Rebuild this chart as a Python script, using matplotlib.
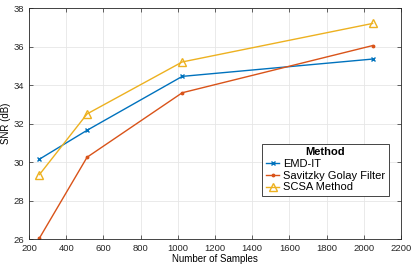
import numpy as np
import matplotlib.pyplot as plt

samples = [256, 512, 1024, 2048]
emd_it = [30.15, 31.65, 34.45, 35.35]
savgol = [26.05, 30.25, 33.6, 36.05]
scsa = [29.35, 32.5, 35.2, 37.2]

plt.rcParams['font.family'] = ['Liberation Sans', 'DejaVu Sans']
plt.rcParams['font.size'] = 6.8

fig = plt.figure(figsize=(4.15, 2.68), dpi=100)
ax = fig.add_axes([0.070, 0.108, 0.896, 0.862])

ax.plot(samples, emd_it, color='#0072BD', marker='x', markersize=3.5, lw=1, label='EMD-IT')
ax.plot(samples, savgol, color='#D95319', marker='.', markersize=3.5, lw=1, label='Savitzky Golay Filter')
ax.plot(samples, scsa, color='#EDB120', marker='^', markersize=5.5, lw=1, mfc='none', label='SCSA Method')

ax.set_xlim(200, 2200)
ax.set_ylim(26, 38)
ax.set_xticks(np.arange(200, 2201, 200))
ax.set_yticks(np.arange(26, 39, 2))
ax.grid(True, color='#e6e6e6', lw=0.6)
ax.set_axisbelow(True)
ax.tick_params(direction='in', length=3, width=0.5, colors='#262626', top=True, right=True, labeltop=False, labelright=False)
for s in ax.spines.values():
    s.set_color('#262626')
    s.set_linewidth(0.6)

ax.set_xlabel('Number of Samples', labelpad=1, fontsize=7)
ax.set_ylabel('SNR (dB)', labelpad=2, fontsize=7)

leg = ax.legend(title='Method', loc='lower right', bbox_to_anchor=(0.982, 0.161),
                fancybox=False, edgecolor='#262626', framealpha=1,
                handlelength=1.2, handletextpad=0.3, borderpad=0.35, labelspacing=0.15,
                fontsize=8, title_fontproperties={'weight': 'bold', 'size': 8})
leg.get_frame().set_linewidth(0.6)

fig.savefig('out.png', dpi=100)
